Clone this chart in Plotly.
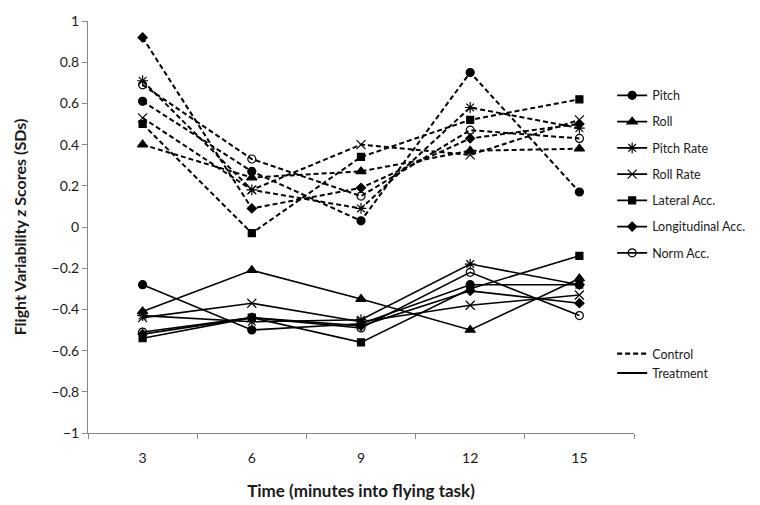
import plotly.graph_objects as go

times = [3, 6, 9, 12, 15]
series_names = ["Pitch", "Roll", "Pitch Rate", "Roll Rate", "Lateral Acc.", "Longitudinal Acc.", "Norm Acc."]

control = {
    "Pitch": [0.61, 0.27, 0.03, 0.75, 0.17],
    "Roll": [0.40, 0.24, 0.27, 0.37, 0.38],
    "Pitch Rate": [0.71, 0.18, 0.09, 0.58, 0.48],
    "Roll Rate": [0.53, 0.18, 0.40, 0.35, 0.52],
    "Lateral Acc.": [0.50, -0.03, 0.34, 0.52, 0.62],
    "Longitudinal Acc.": [0.92, 0.09, 0.19, 0.43, 0.50],
    "Norm Acc.": [0.69, 0.33, 0.15, 0.47, 0.43],
}
treatment = {
    "Pitch": [-0.28, -0.50, -0.47, -0.28, -0.28],
    "Roll": [-0.41, -0.21, -0.35, -0.50, -0.25],
    "Pitch Rate": [-0.43, -0.46, -0.45, -0.18, -0.28],
    "Roll Rate": [-0.44, -0.37, -0.46, -0.38, -0.33],
    "Lateral Acc.": [-0.54, -0.44, -0.56, -0.30, -0.14],
    "Longitudinal Acc.": [-0.52, -0.44, -0.48, -0.31, -0.37],
    "Norm Acc.": [-0.51, -0.44, -0.49, -0.22, -0.43],
}
y_ticks = [1, 0.8, 0.6, 0.4, 0.2, 0, -0.2, -0.4, -0.6, -0.8, -1]
y_ticktext = ["1", "0.8", "0.6", "0.4", "0.2", "0", "\u22120.2", "\u22120.4", "\u22120.6", "\u22120.8", "\u22121"]

symbols = {
    "Pitch": ("circle", 8),
    "Roll": ("triangle-up", 9),
    "Pitch Rate": ("asterisk-open", 9),
    "Roll Rate": ("x-thin-open", 9),
    "Lateral Acc.": ("square", 7),
    "Longitudinal Acc.": ("diamond", 7),
    "Norm Acc.": ("circle-open", 8),
}

fig = go.Figure()
for name in series_names:
    sym, size = symbols[name]
    fig.add_trace(go.Scatter(
        x=times, y=control[name], mode="lines+markers", showlegend=False,
        line=dict(color="black", width=2, dash="5px,3px"),
        marker=dict(symbol=sym, size=size, color="black", line=dict(color="black", width=1.2)),
    ))
for i, name in enumerate(series_names):
    sym, size = symbols[name]
    fig.add_trace(go.Scatter(
        x=times, y=treatment[name], mode="lines+markers", name=name,
        legendgroup=f"g{i}", legend="legend",
        line=dict(color="black", width=1.6),
        marker=dict(symbol=sym, size=size, color="black", line=dict(color="black", width=1.2)),
    ))

fig.add_trace(go.Scatter(x=[None], y=[None], mode="lines", name="Control", legend="legend2",
                         legendgroup="c", line=dict(color="black", width=2.2, dash="5px,3px")))
fig.add_trace(go.Scatter(x=[None], y=[None], mode="lines", name="Treatment", legend="legend2",
                         legendgroup="t", line=dict(color="black", width=2)))

fig.update_layout(
    width=752, height=497,
    margin=dict(l=80, r=126, t=13, b=72, autoexpand=False),
    paper_bgcolor="white", plot_bgcolor="white",
    font=dict(family="Lato, Open Sans, sans-serif", size=14, color="#1a1a1a"),
    xaxis=dict(
        range=[1.5, 16.5], tickvals=times, ticktext=[str(t) for t in times],
        ticks="", showgrid=False, zeroline=False,
        showline=True, linecolor="#888", linewidth=1,
        minor=dict(tickvals=[1.5, 4.5, 7.5, 10.5, 13.5, 16.5], ticks="outside", ticklen=5, tickcolor="#888", showgrid=False),
        ticklabelstandoff=12,
        title=dict(text="<b>Time (minutes into flying task)</b>", font=dict(size=17, color="#1a1a1a"), standoff=20),
    ),
    yaxis=dict(
        range=[-1, 1], tickvals=y_ticks, ticktext=y_ticktext,
        ticks="outside", ticklen=5, tickcolor="#888", showgrid=False, zeroline=False,
        showline=True, linecolor="#888", linewidth=1,
        title=dict(text="<b>Flight Variability <i>z</i> Scores (SDs)</b>", font=dict(size=16, color="#1a1a1a"), standoff=20),
    ),
    legend=dict(x=0.96, y=0.855, xanchor="left", yanchor="top", bgcolor="rgba(0,0,0,0)",
                font=dict(size=12.5, color="#1a1a1a"), itemwidth=30, tracegroupgap=7,
                traceorder="grouped"),
    legend2=dict(x=0.96, y=0.228, xanchor="left", yanchor="top", bgcolor="rgba(0,0,0,0)",
                 font=dict(size=12.5, color="#1a1a1a"), itemwidth=30, tracegroupgap=0,
                 traceorder="grouped"),
)

fig.write_html("out.html")
